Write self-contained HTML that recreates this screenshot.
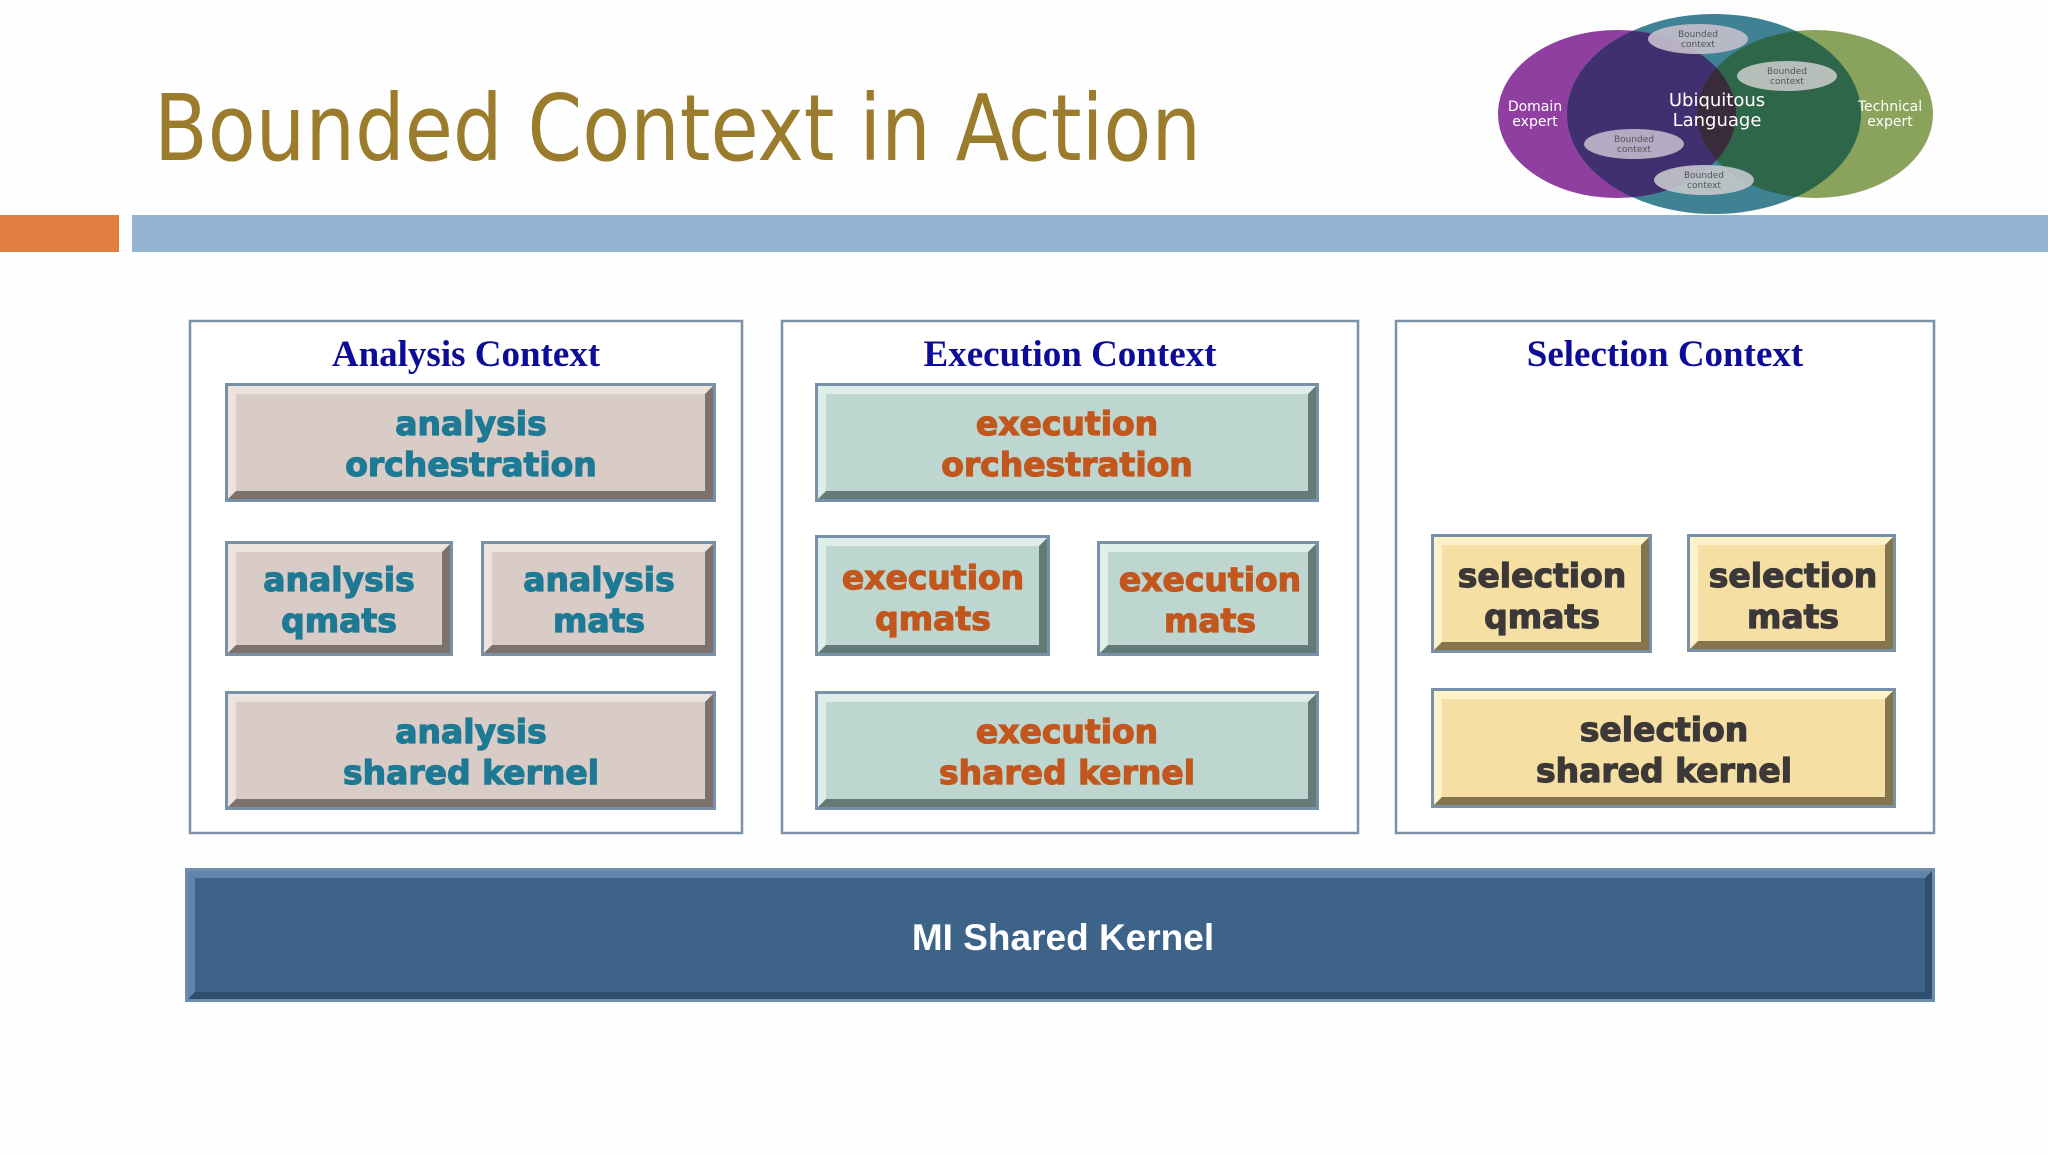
<!DOCTYPE html>
<html><head><meta charset="utf-8"><style>
html,body{margin:0;padding:0;background:#fff;}
svg{display:block;}
.bt{font-family:"DejaVu Sans",sans-serif;font-weight:bold;font-size:33px;text-anchor:middle;stroke-width:1.2;}
.ct{font-family:"Liberation Serif",serif;font-weight:bold;font-size:37px;fill:#0c0c98;text-anchor:middle;}
.vt{font-family:"DejaVu Sans",sans-serif;fill:#fff;text-anchor:middle;}
.vs{font-family:"DejaVu Sans",sans-serif;fill:#555;text-anchor:middle;font-size:9px;}
</style></head><body>
<svg width="2048" height="1155" viewBox="0 0 2048 1155" xmlns="http://www.w3.org/2000/svg">
<defs>
<clipPath id="cp"><ellipse cx="1617" cy="114" rx="119" ry="84"/></clipPath>
<clipPath id="cm"><ellipse cx="1714" cy="114" rx="147" ry="100"/></clipPath>
</defs>
<rect width="2048" height="1155" fill="#fefefe"/>
<text x="154" y="160" font-family="'DejaVu Sans',sans-serif" font-size="92" fill="#9a7c2c" textLength="1047" lengthAdjust="spacingAndGlyphs">Bounded Context in Action</text>
<rect x="0" y="215" width="119" height="37" fill="#e07f40"/>
<rect x="132" y="215" width="1916" height="37" fill="#94b5d2"/>
<!-- venn -->
<ellipse cx="1617" cy="114" rx="119" ry="84" fill="#8e3f9f"/>
<ellipse cx="1815" cy="114" rx="118" ry="84" fill="#8aa35c"/>
<ellipse cx="1714" cy="114" rx="147" ry="100" fill="#3f8293"/>
<g clip-path="url(#cm)"><ellipse cx="1617" cy="114" rx="119" ry="84" fill="#41306f"/><ellipse cx="1815" cy="114" rx="118" ry="84" fill="#2d6649"/></g>
<g clip-path="url(#cp)"><ellipse cx="1815" cy="114" rx="118" ry="84" fill="#3a2b3c" clip-path="url(#cm)"/></g>
<ellipse cx="1698" cy="39" rx="50" ry="15" fill="#c4c0cc" opacity="0.9"/>
<ellipse cx="1787" cy="76" rx="50" ry="15" fill="#c4c8c4" opacity="0.9"/>
<ellipse cx="1634" cy="144" rx="50" ry="15" fill="#c0b8cc" opacity="0.9"/>
<ellipse cx="1704" cy="180" rx="50" ry="15" fill="#c4c8cc" opacity="0.9"/>
<text class="vs" x="1698" y="37">Bounded</text><text class="vs" x="1698" y="47">context</text>
<text class="vs" x="1787" y="74">Bounded</text><text class="vs" x="1787" y="84">context</text>
<text class="vs" x="1634" y="142">Bounded</text><text class="vs" x="1634" y="152">context</text>
<text class="vs" x="1704" y="178">Bounded</text><text class="vs" x="1704" y="188">context</text>
<text class="vt" x="1535" y="111" font-size="14">Domain</text><text class="vt" x="1535" y="126" font-size="14">expert</text>
<text class="vt" x="1717" y="106" font-size="18" fill="#e8def0">Ubiquitous</text><text class="vt" x="1717" y="126" font-size="18">Language</text>
<text class="vt" x="1890" y="111" font-size="14">Technical</text><text class="vt" x="1890" y="126" font-size="14">expert</text>
<!-- containers -->
<g fill="#fff" stroke="#7c90a6" stroke-width="2.5">
<rect x="190" y="321" width="552" height="512"/>
<rect x="782" y="321" width="576" height="512"/>
<rect x="1396" y="321" width="538" height="512"/>
</g>
<text class="ct" x="466" y="366">Analysis Context</text>
<text class="ct" x="1070" y="366">Execution Context</text>
<text class="ct" x="1665" y="366">Selection Context</text>

<!-- Analysis -->
<g>
<rect x="225" y="383" width="491" height="119" fill="#7890a8"/><rect x="228" y="386" width="485" height="113" fill="#7d716c"/><polygon points="228,386 713,386 705,394 236,394 236,491 228,499" fill="#ece3df"/><rect x="236" y="394" width="469" height="97" fill="#d9cbc5"/>
<rect x="225" y="541" width="228" height="115" fill="#7890a8"/><rect x="228" y="544" width="222" height="109" fill="#7d716c"/><polygon points="228,544 450,544 442,552 236,552 236,645 228,653" fill="#ece3df"/><rect x="236" y="552" width="206" height="93" fill="#d9cbc5"/>
<rect x="481" y="541" width="235" height="115" fill="#7890a8"/><rect x="484" y="544" width="229" height="109" fill="#7d716c"/><polygon points="484,544 713,544 705,552 492,552 492,645 484,653" fill="#ece3df"/><rect x="492" y="552" width="213" height="93" fill="#d9cbc5"/>
<rect x="225" y="691" width="491" height="119" fill="#7890a8"/><rect x="228" y="694" width="485" height="113" fill="#7d716c"/><polygon points="228,694 713,694 705,702 236,702 236,799 228,807" fill="#ece3df"/><rect x="236" y="702" width="469" height="97" fill="#d9cbc5"/>
</g>
<!-- Execution -->
<g>
<rect x="815" y="383" width="504" height="119" fill="#7890a8"/><rect x="818" y="386" width="498" height="113" fill="#647a76"/><polygon points="818,386 1316,386 1308,394 826,394 826,491 818,499" fill="#e0eeea"/><rect x="826" y="394" width="482" height="97" fill="#bdd6d0"/>
<rect x="815" y="535" width="235" height="121" fill="#7890a8"/><rect x="818" y="538" width="229" height="115" fill="#647a76"/><polygon points="818,538 1047,538 1039,546 826,546 826,645 818,653" fill="#e0eeea"/><rect x="826" y="546" width="213" height="99" fill="#bdd6d0"/>
<rect x="1097" y="541" width="222" height="115" fill="#7890a8"/><rect x="1100" y="544" width="216" height="109" fill="#647a76"/><polygon points="1100,544 1316,544 1308,552 1108,552 1108,645 1100,653" fill="#e0eeea"/><rect x="1108" y="552" width="200" height="93" fill="#bdd6d0"/>
<rect x="815" y="691" width="504" height="119" fill="#7890a8"/><rect x="818" y="694" width="498" height="113" fill="#647a76"/><polygon points="818,694 1316,694 1308,702 826,702 826,799 818,807" fill="#e0eeea"/><rect x="826" y="702" width="482" height="97" fill="#bdd6d0"/>
</g>
<!-- Selection -->
<g>
<rect x="1431" y="534" width="221" height="119" fill="#7890a8"/><rect x="1434" y="537" width="215" height="113" fill="#86744c"/><polygon points="1434,537 1649,537 1641,545 1442,545 1442,642 1434,650" fill="#fff1c8"/><rect x="1442" y="545" width="199" height="97" fill="#f5dfa2"/>
<rect x="1687" y="534" width="209" height="118" fill="#7890a8"/><rect x="1690" y="537" width="203" height="112" fill="#86744c"/><polygon points="1690,537 1893,537 1885,545 1698,545 1698,641 1690,649" fill="#fff1c8"/><rect x="1698" y="545" width="187" height="96" fill="#f5dfa2"/>
<rect x="1431" y="688" width="465" height="120" fill="#7890a8"/><rect x="1434" y="691" width="459" height="114" fill="#86744c"/><polygon points="1434,691 1893,691 1885,699 1442,699 1442,797 1434,805" fill="#fff1c8"/><rect x="1442" y="699" width="443" height="98" fill="#f5dfa2"/>
</g>
<!-- box text -->
<g class="bt" fill="#1d7994" stroke="#1d7994">
<text x="471" y="435">analysis</text><text x="471" y="476">orchestration</text>
<text x="339" y="591">analysis</text><text x="339" y="632">qmats</text>
<text x="599" y="591">analysis</text><text x="599" y="632">mats</text>
<text x="471" y="743">analysis</text><text x="471" y="784">shared kernel</text>
</g>
<g class="bt" fill="#c2571e" stroke="#c2571e">
<text x="1067" y="435">execution</text><text x="1067" y="476">orchestration</text>
<text x="933" y="589">execution</text><text x="933" y="630">qmats</text>
<text x="1210" y="591">execution</text><text x="1210" y="632">mats</text>
<text x="1067" y="743">execution</text><text x="1067" y="784">shared kernel</text>
</g>
<g class="bt" fill="#3d3838" stroke="#3d3838">
<text x="1542" y="587">selection</text><text x="1542" y="628">qmats</text>
<text x="1793" y="587">selection</text><text x="1793" y="628">mats</text>
<text x="1664" y="741">selection</text><text x="1664" y="782">shared kernel</text>
</g>
<!-- MI Shared Kernel -->
<rect x="185" y="868" width="1750" height="134" fill="#6f8eae"/>
<rect x="188" y="871" width="1744" height="128" fill="#2e4e70"/>
<polygon points="188,871 1932,871 1925,878 195,878 195,992 188,999" fill="#5f85ab"/>
<rect x="195" y="878" width="1730" height="114" fill="#3d6389"/>
<text x="1063" y="950" font-family="'Liberation Sans',sans-serif" font-weight="bold" font-size="37" fill="#fff" text-anchor="middle">MI Shared Kernel</text>
</svg>
</body></html>
